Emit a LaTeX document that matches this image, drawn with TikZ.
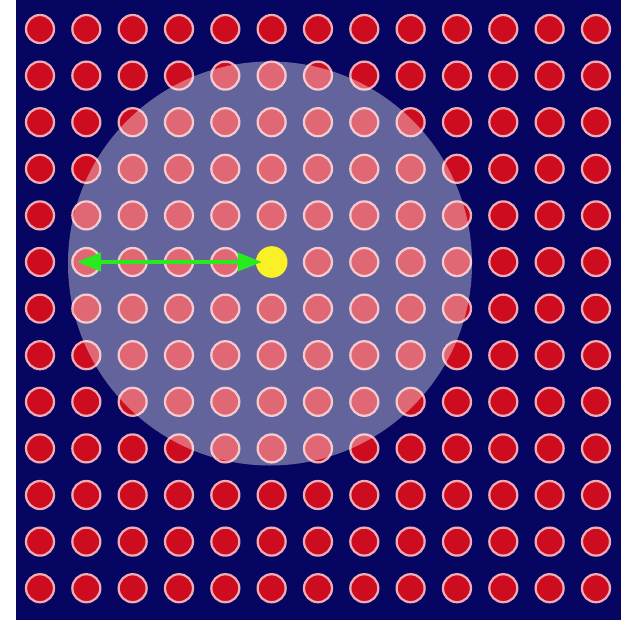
\documentclass[tikz,border=0pt]{standalone}
\usetikzlibrary{arrows.meta}

\begin{document}
\begin{tikzpicture}[x=0.05cm,y=-0.05cm]
  \definecolor{navyback}{RGB}{6,6,98}
  \definecolor{atomred}{RGB}{205,12,32}
  \definecolor{atomrim}{RGB}{238,172,182}
  \definecolor{cutgreen}{RGB}{40,235,30}
  \definecolor{atomyellow}{RGB}{250,240,40}

  \useasboundingbox (0,0) rectangle (621,620);
  \fill[navyback] (16,0) rectangle (621,620);

  % lattice of atoms, 13 x 13
  \foreach \i in {0,...,12}
    \foreach \j in {0,...,12}
      \filldraw[fill=atomred, draw=atomrim, line width=3.2pt]
        ({40+46.33*\i},{29+46.6*\j}) circle (14);

  % cutoff sphere
  \fill[white, opacity=0.38] (270,263.5) circle (202);

  % central atom and cutoff radius
  \node[circle, fill=atomyellow, inner sep=0pt, minimum size=45pt] (centre) at (271.7,262) {};
  \coordinate (rc) at (77,262);
  \draw[cutgreen, line width=4.5pt,
        {Triangle[length=34pt,width=26pt]}-{Triangle[length=34pt,width=26pt]}]
    (rc) -- ([xshift=0.3cm]centre.west);

\end{tikzpicture}
\end{document}
